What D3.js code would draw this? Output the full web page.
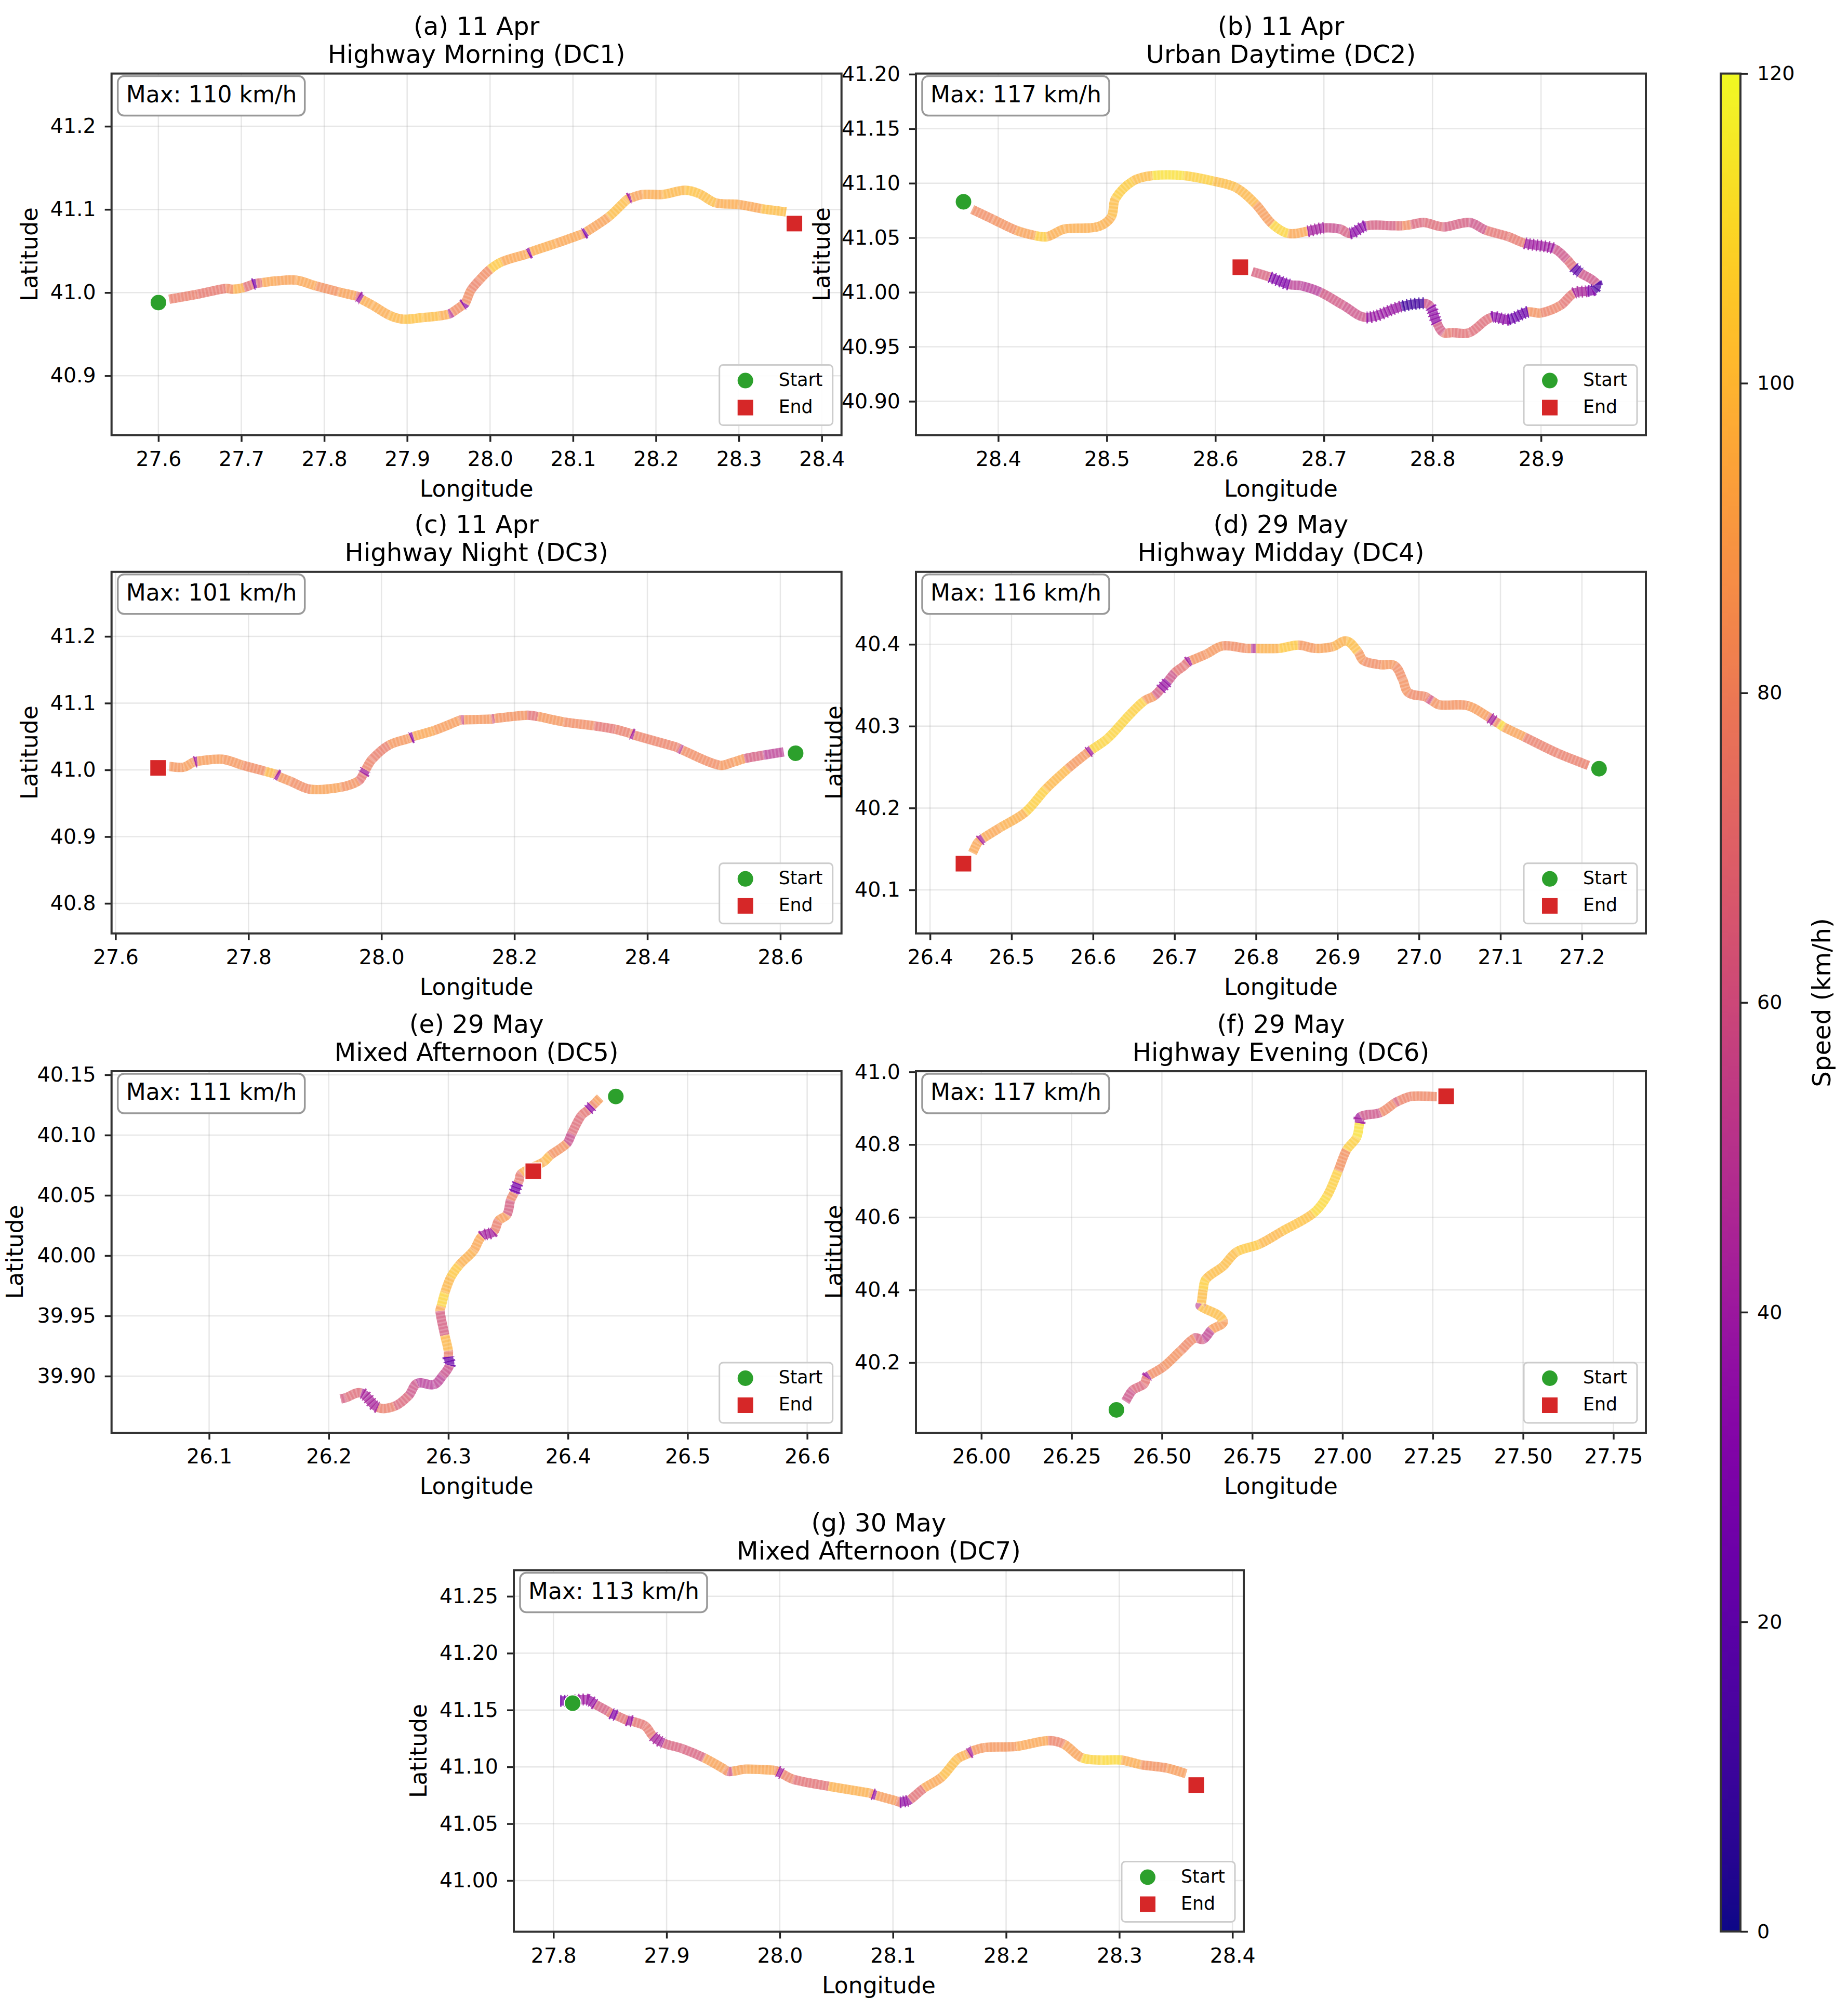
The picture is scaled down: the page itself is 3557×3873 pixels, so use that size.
<!DOCTYPE html>
<html lang="en">
<head>
    <meta charset="UTF-8">
    <title>Route speed maps</title>
    <script src="https://d3js.org/d3.v7.min.js"></script>
    <style>
        body {
            background-color: white;
            margin: 0;
            padding: 0;
        }

        svg {
            display: block;
            font-family: 'DejaVu Sans', sans-serif;
        }

        .title {
            font-size: 48.2px;
            fill: #000;
            text-anchor: middle;
        }

        .axis-label {
            font-size: 44px;
            fill: #000;
            text-anchor: middle;
        }

        .tick-label text {
            font-size: 39.5px;
            font-family: 'DejaVu Sans', sans-serif;
            fill: #000;
        }

        .legend-text {
            font-size: 34.7px;
            fill: #000;
        }
    </style>
</head>
<body>
    <svg width="3557" height="3873"></svg>

    <script>
        // Panel text
        const panelDates = ["(a) 11 Apr", "(b) 11 Apr", "(c) 11 Apr", "(d) 29 May", "(e) 29 May", "(f) 29 May", "(g) 30 May"];
        const panelNames = ["Highway Morning (DC1)", "Urban Daytime (DC2)", "Highway Night (DC3)", "Highway Midday (DC4)", "Mixed Afternoon (DC5)", "Highway Evening (DC6)", "Mixed Afternoon (DC7)"];
        const maxSpeeds = [110, 117, 101, 116, 111, 117, 113];

        const lonLimits = [[27.5435, 28.4238], [28.3242, 28.9966], [27.594, 28.692], [26.3827, 27.2785], [26.0184, 26.6287], [25.819, 27.84], [27.765, 28.41]];
        const latLimits = [[40.8286, 41.2634], [40.869, 41.2006], [40.755, 41.2967], [40.0468, 40.4885], [39.853, 40.153], [40.007, 41.002], [40.955, 41.273]];

        const lonTicks = [
            [27.6, 27.7, 27.8, 27.9, 28.0, 28.1, 28.2, 28.3, 28.4],
            [28.4, 28.5, 28.6, 28.7, 28.8, 28.9],
            [27.6, 27.8, 28.0, 28.2, 28.4, 28.6],
            [26.4, 26.5, 26.6, 26.7, 26.8, 26.9, 27.0, 27.1, 27.2],
            [26.1, 26.2, 26.3, 26.4, 26.5, 26.6],
            [26.00, 26.25, 26.50, 26.75, 27.00, 27.25, 27.50, 27.75],
            [27.8, 27.9, 28.0, 28.1, 28.2, 28.3, 28.4]
        ];
        const latTicks = [
            [40.9, 41.0, 41.1, 41.2],
            [40.90, 40.95, 41.00, 41.05, 41.10, 41.15, 41.20],
            [40.8, 40.9, 41.0, 41.1, 41.2],
            [40.1, 40.2, 40.3, 40.4],
            [39.90, 39.95, 40.00, 40.05, 40.10, 40.15],
            [40.2, 40.4, 40.6, 40.8, 41.0],
            [41.00, 41.05, 41.10, 41.15, 41.20, 41.25]
        ];
        const lonDecimals = [1, 1, 1, 1, 1, 2, 1];
        const latDecimals = [1, 2, 1, 1, 2, 1, 2];

        const startPoints = [[27.6, 40.988], [28.368, 41.083], [28.623, 41.025], [27.221, 40.248], [26.44, 40.132], [26.374, 40.07], [27.817, 41.156]];
        const endPoints = [[28.367, 41.083], [28.623, 41.023], [27.664, 41.003], [26.441, 40.132], [26.371, 40.07], [27.287, 40.933], [28.368, 41.084]];

        // Tracks: [longitude, latitude, speed km/h]
        const trackDC1 = [
            [27.613,40.992,76],[27.647,40.998,74],[27.681,41.005,82],[27.690,41.004,96],[27.703,41.006,70],[27.714,41.010,28],[27.718,41.011,70],
            [27.725,41.012,92],[27.742,41.014,90],[27.766,41.015,92],[27.790,41.008,84],[27.817,41.001,90],[27.838,40.996,70],[27.841,40.995,38],[27.845,40.992,94],
            [27.858,40.985,94],[27.878,40.973,98],[27.895,40.968,102],[27.919,40.970,100],[27.939,40.972,94],[27.950,40.974,48],[27.954,40.976,82],
            [27.967,40.985,35],[27.970,40.987,82],[27.977,41.003,78],[27.987,41.015,82],[28.000,41.028,104],[28.014,41.037,92],[28.043,41.046,92],
            [28.046,41.047,36],[28.049,41.049,94],[28.079,41.059,92],[28.110,41.070,80],[28.113,41.071,30],[28.116,41.073,90],[28.143,41.091,100],
            [28.164,41.111,96],[28.167,41.113,42],[28.170,41.114,90],[28.184,41.118,94],[28.208,41.118,98],[28.235,41.123,102],[28.252,41.119,100],
            [28.272,41.108,94],[28.300,41.106,92],[28.327,41.101,100],[28.357,41.097,106]
        ];
        const trackDC2 = [
            [28.376,41.076,82],[28.395,41.067,84],[28.416,41.057,90],[28.434,41.052,105],[28.445,41.051,95],[28.461,41.058,95],[28.491,41.060,96],
            [28.504,41.069,100],[28.508,41.086,105],[28.524,41.102,100],[28.542,41.107,112],[28.571,41.107,106],[28.598,41.102,100],[28.619,41.096,98],
            [28.637,41.081,88],[28.652,41.063,108],[28.667,41.054,92],[28.685,41.056,42],[28.700,41.059,55],[28.715,41.058,62],[28.724,41.054,34],
            [28.739,41.061,62],[28.766,41.061,70],[28.772,41.061,82],[28.780,41.062,66],[28.792,41.064,68],[28.810,41.060,62],[28.834,41.064,58],
            [28.849,41.057,72],[28.870,41.051,74],[28.885,41.045,40],[28.912,41.040,58],[28.924,41.030,68],[28.930,41.023,20],[28.936,41.018,58],
            [28.951,41.008,16],[28.948,41.002,30],[28.942,41.001,44],[28.930,40.999,72],[28.918,40.988,78],[28.900,40.981,84],[28.888,40.982,24],
            [28.870,40.975,34],[28.854,40.977,68],[28.834,40.963,70],[28.818,40.963,74],[28.810,40.963,60],[28.804,40.972,36],[28.798,40.987,58],
            [28.792,40.990,12],[28.771,40.987,38],[28.739,40.977,58],[28.718,40.988,60],[28.697,41.000,48],[28.679,41.006,50],[28.668,41.007,30],[28.650,41.014,64],[28.634,41.019,64]
        ];
        const trackDC3 = [
            [27.681,41.005,86],[27.702,41.004,88],[27.716,41.011,82],[27.719,41.012,42],[27.723,41.013,88],[27.761,41.016,86],[27.791,41.007,82],
            [27.825,40.998,98],[27.839,40.994,85],[27.842,40.993,42],[27.846,40.990,86],[27.863,40.983,82],[27.893,40.971,90],[27.939,40.974,84],
            [27.965,40.983,72],[27.973,40.994,42],[27.976,41.000,78],[27.986,41.016,76],[28.011,41.037,86],[28.041,41.047,84],[28.044,41.048,36],
            [28.048,41.050,92],[28.079,41.059,88],[28.117,41.074,80],[28.120,41.075,58],[28.124,41.075,86],[28.163,41.076,84],[28.166,41.076,62],
            [28.170,41.077,84],[28.219,41.082,70],[28.235,41.080,86],[28.274,41.072,82],[28.320,41.066,72],[28.351,41.061,76],[28.373,41.055,82],
            [28.376,41.054,44],[28.380,41.052,78],[28.444,41.034,74],[28.448,41.032,50],[28.452,41.030,82],[28.508,41.007,86],[28.530,41.012,88],
            [28.546,41.017,62],[28.575,41.022,50],[28.605,41.027,44]
        ];
        const trackDC4 = [
            [26.452,40.145,92],[26.458,40.157,90],[26.461,40.160,44],[26.465,40.163,92],[26.486,40.176,96],[26.517,40.195,106],[26.542,40.223,98],
            [26.569,40.248,86],[26.590,40.265,84],[26.594,40.268,42],[26.598,40.271,108],[26.618,40.285,108],[26.645,40.314,106],[26.663,40.331,86],
            [26.675,40.337,62],[26.683,40.345,38],[26.692,40.355,58],[26.700,40.365,72],[26.712,40.374,70],[26.716,40.378,42],[26.720,40.380,84],
            [26.739,40.388,86],[26.759,40.398,82],[26.788,40.395,84],[26.794,40.395,48],[26.800,40.395,96],[26.828,40.395,104],[26.852,40.399,86],
            [26.873,40.395,90],[26.894,40.397,96],[26.911,40.404,100],[26.925,40.391,86],[26.932,40.380,82],[26.953,40.375,86],[26.970,40.374,82],
            [26.980,40.357,84],[26.987,40.341,80],[27.008,40.336,78],[27.011,40.334,60],[27.016,40.331,84],[27.025,40.326,84],[27.060,40.325,88],
            [27.084,40.312,76],[27.087,40.310,44],[27.093,40.306,80],[27.098,40.303,110],[27.104,40.299,90],[27.129,40.287,76],[27.170,40.267,76],[27.208,40.252,80]
        ];
        const trackDC5 = [
            [26.427,40.131,88],[26.423,40.127,80],[26.420,40.124,36],[26.417,40.121,72],[26.411,40.116,68],[26.403,40.101,56],[26.399,40.093,84],
            [26.385,40.083,98],[26.380,40.078,95],[26.361,40.068,74],[26.359,40.062,72],[26.358,40.060,28],[26.355,40.052,78],[26.352,40.046,62],
            [26.349,40.034,88],[26.342,40.029,76],[26.338,40.020,42],[26.328,40.016,92],[26.321,40.004,96],[26.309,39.992,104],[26.302,39.982,98],
            [26.297,39.969,108],[26.294,39.958,92],[26.293,39.954,62],[26.297,39.934,98],[26.300,39.921,76],[26.300,39.916,24],[26.301,39.909,56],
            [26.295,39.900,50],[26.288,39.893,48],[26.274,39.894,58],[26.267,39.884,66],[26.255,39.875,76],[26.241,39.874,44],[26.227,39.886,68],[26.214,39.882,62],[26.210,39.881,36]
        ];
        const trackDC6 = [
            [26.399,40.093,58],[26.419,40.124,66],[26.450,40.141,72],[26.458,40.159,42],[26.465,40.165,82],[26.505,40.189,84],[26.552,40.233,80],
            [26.591,40.268,62],[26.614,40.264,52],[26.637,40.290,88],[26.669,40.316,100],[26.606,40.356,50],[26.609,40.362,100],[26.614,40.400,106],
            [26.622,40.430,100],[26.669,40.465,100],[26.707,40.505,104],[26.770,40.526,98],[26.832,40.561,102],[26.918,40.610,110],[26.957,40.658,106],
            [26.988,40.728,84],[27.011,40.785,106],[27.039,40.820,112],[27.047,40.859,42],[27.050,40.877,58],[27.105,40.888,80],[27.144,40.914,66],
            [27.155,40.920,78],[27.191,40.933,80],[27.261,40.932,78]
        ];
        const trackDC7 = [
            [27.806,41.158,28],[27.812,41.158,40],[27.830,41.159,38],[27.837,41.155,62],[27.848,41.149,72],[27.851,41.147,32],[27.856,41.145,70],
            [27.865,41.141,40],[27.870,41.140,72],[27.881,41.136,74],[27.888,41.127,44],[27.897,41.121,64],[27.914,41.116,64],[27.933,41.108,90],
            [27.951,41.098,84],[27.954,41.096,60],[27.958,41.096,90],[27.970,41.098,92],[27.995,41.097,84],[27.998,41.096,42],[28.002,41.094,78],
            [28.012,41.089,70],[28.043,41.083,96],[28.079,41.077,88],[28.082,41.076,38],[28.085,41.075,88],[28.103,41.070,78],[28.106,41.069,36],
            [28.112,41.070,40],[28.115,41.071,70],[28.127,41.081,92],[28.143,41.091,100],[28.157,41.107,96],[28.165,41.111,84],[28.167,41.112,44],
            [28.170,41.114,86],[28.181,41.117,86],[28.209,41.118,92],[28.237,41.123,78],[28.251,41.120,90],[28.267,41.108,108],[28.284,41.106,110],
            [28.302,41.106,94],[28.319,41.102,84],[28.342,41.099,88],[28.359,41.094,84]
        ];
        const tracks = [trackDC1, trackDC2, trackDC3, trackDC4, trackDC5, trackDC6, trackDC7];

        const colorbarTicks = [0, 20, 40, 60, 80, 100, 120];

        // Panel boxes in page pixels
        const panelLeft = [214.7, 1763, 214.7, 1763, 214.7, 1763, 989];
        const panelTop = [141.6, 141.6, 1100.8, 1100.8, 2062, 2062, 3022.5];
        const latLabelGap = [143, 166, 143, 142, 171, 142, 168];
        const panelWidth = 1405;
        const panelHeight = 696;

        const svg = d3.select("svg");
        const speedColor = d3.scaleSequential(d3.interpolatePlasma).domain([0, 120]);

        // One smooth piece of track between points i and i + 1
        function trackPiece(pts, i) {
            const p0 = pts[Math.max(i - 1, 0)], p1 = pts[i], p2 = pts[i + 1], p3 = pts[Math.min(i + 2, pts.length - 1)];
            const len = Math.hypot(p2[0] - p1[0], p2[1] - p1[1]);
            const unit = (a, b) => {
                const n = Math.hypot(b[0] - a[0], b[1] - a[1]) || 1;
                return [(b[0] - a[0]) / n, (b[1] - a[1]) / n];
            };
            const t1 = unit(p0, p2), t2 = unit(p1, p3);
            return `M${p1[0]},${p1[1]}C${p1[0] + t1[0] * len / 3},${p1[1] + t1[1] * len / 3} ` +
                `${p2[0] - t2[0] * len / 3},${p2[1] - t2[1] * len / 3} ${p2[0]},${p2[1]}`;
        }

        panelDates.forEach(function(date, i) {
            const g = svg.append("g").attr("transform", `translate(${panelLeft[i]},${panelTop[i]})`);

            const x = d3.scaleLinear().domain(lonLimits[i]).range([0, panelWidth]);
            const y = d3.scaleLinear().domain(latLimits[i]).range([panelHeight, 0]);

            // Title
            g.append("text").attr("class", "title").attr("x", panelWidth / 2).attr("y", -74.5).text(date);
            g.append("text").attr("class", "title").attr("x", panelWidth / 2).attr("y", -20.5).text(panelNames[i]);

            // Grid
            g.selectAll("line.vgrid").data(lonTicks[i]).enter().append("line")
                .attr("class", "vgrid")
                .attr("x1", d => x(d)).attr("x2", d => x(d))
                .attr("y1", 0).attr("y2", panelHeight)
                .attr("stroke", "#b0b0b0").attr("stroke-opacity", 0.3).attr("stroke-width", 2.5);
            g.selectAll("line.hgrid").data(latTicks[i]).enter().append("line")
                .attr("class", "hgrid")
                .attr("x1", 0).attr("x2", panelWidth)
                .attr("y1", d => y(d)).attr("y2", d => y(d))
                .attr("stroke", "#b0b0b0").attr("stroke-opacity", 0.3).attr("stroke-width", 2.5);

            // Track, one coloured piece per pair of points
            const track = tracks[i];
            const pts = track.map(d => [x(d[0]), y(d[1])]);
            const pieces = d3.range(track.length - 1).map(k => ({ d: trackPiece(pts, k), speed: track[k][2] }));

            const trackGroup = g.append("g").attr("opacity", 0.74);
            trackGroup.selectAll("path.piece").data(pieces).enter().append("path")
                .attr("class", "piece")
                .attr("d", d => d.d)
                .attr("fill", "none")
                .attr("stroke", d => speedColor(d.speed))
                .attr("stroke-width", 18)
                .attr("stroke-linecap", "butt");
            trackGroup.selectAll("path.stripe").data(pieces).enter().append("path")
                .attr("class", "stripe")
                .attr("d", d => d.d)
                .attr("fill", "none")
                .attr("stroke", "white")
                .attr("stroke-opacity", 0.2)
                .attr("stroke-width", 18)
                .attr("stroke-dasharray", "3 4");

            // Slow stretches look spiky
            g.selectAll("path.spike").data(pieces.filter(d => d.speed < 46)).enter().append("path")
                .attr("class", "spike")
                .attr("d", d => d.d)
                .attr("fill", "none")
                .attr("stroke", d => speedColor(d.speed))
                .attr("stroke-opacity", 0.8)
                .attr("stroke-width", 23)
                .attr("stroke-dasharray", "2.5 5");

            // Start / end markers
            g.append("circle")
                .attr("cx", x(startPoints[i][0])).attr("cy", y(startPoints[i][1])).attr("r", 16)
                .attr("fill", "#2ca02c").attr("stroke", "white").attr("stroke-width", 2);
            g.append("rect")
                .attr("x", x(endPoints[i][0]) - 16).attr("y", y(endPoints[i][1]) - 16)
                .attr("width", 32).attr("height", 32)
                .attr("fill", "#d62728").attr("stroke", "white").attr("stroke-width", 2);

            // Axes
            const xAxis = d3.axisBottom(x).tickValues(lonTicks[i]).tickFormat(d3.format(`.${lonDecimals[i]}f`)).tickSize(13).tickPadding(18);
            const yAxis = d3.axisLeft(y).tickValues(latTicks[i]).tickFormat(d3.format(`.${latDecimals[i]}f`)).tickSize(13).tickPadding(17);
            [g.append("g").attr("class", "tick-label").attr("transform", `translate(0,${panelHeight})`).call(xAxis),
             g.append("g").attr("class", "tick-label").call(yAxis)].forEach(function(ax) {
                ax.select(".domain").remove();
                ax.selectAll(".tick line").attr("stroke", "#222").attr("stroke-width", 3.5);
            });

            // Frame
            g.append("rect").attr("width", panelWidth).attr("height", panelHeight)
                .attr("fill", "none").attr("stroke", "#333").attr("stroke-width", 4);

            // Axis labels
            g.append("text").attr("class", "axis-label")
                .attr("x", panelWidth / 2).attr("y", panelHeight + 118).text("Longitude");
            g.append("text").attr("class", "axis-label")
                .attr("transform", `translate(${-latLabelGap[i]},${panelHeight / 2}) rotate(-90)`)
                .text("Latitude");

            // Max speed box
            g.append("rect").attr("x", 12).attr("y", 5).attr("width", 360).attr("height", 76).attr("rx", 12)
                .attr("fill", "white").attr("stroke", "#999").attr("stroke-width", 3.5);
            g.append("text").attr("x", 28).attr("y", 55)
                .attr("font-size", 44).attr("fill", "#000")
                .text(`Max: ${maxSpeeds[i]} km/h`);

            // Legend
            const legend = g.append("g").attr("transform", `translate(${panelWidth - 235},${panelHeight - 135})`);
            legend.append("rect").attr("width", 218).attr("height", 116).attr("rx", 7)
                .attr("fill", "white").attr("fill-opacity", 0.9).attr("stroke", "#ccc").attr("stroke-width", 3);
            legend.append("circle").attr("cx", 50).attr("cy", 30).attr("r", 16)
                .attr("fill", "#2ca02c").attr("stroke", "white").attr("stroke-width", 2);
            legend.append("rect").attr("x", 34).attr("y", 66).attr("width", 32).attr("height", 32)
                .attr("fill", "#d62728").attr("stroke", "white").attr("stroke-width", 2);
            legend.append("text").attr("class", "legend-text").attr("x", 114).attr("y", 40).text("Start");
            legend.append("text").attr("class", "legend-text").attr("x", 114).attr("y", 92).text("End");
        });

        // Colorbar
        const cbarScale = d3.scaleLinear().domain([0, 120]).range([3718, 141.6]);
        const defs = svg.append("defs");
        const gradient = defs.append("linearGradient").attr("id", "plasma-bar")
            .attr("x1", 0).attr("y1", 1).attr("x2", 0).attr("y2", 0);
        gradient.selectAll("stop").data(d3.range(0, 1.001, 0.02)).enter().append("stop")
            .attr("offset", d => d).attr("stop-color", d => d3.interpolatePlasma(d));
        svg.append("rect")
            .attr("x", 3312).attr("y", cbarScale(120))
            .attr("width", 38).attr("height", cbarScale(0) - cbarScale(120))
            .attr("fill", "url(#plasma-bar)")
            .attr("stroke", "#333").attr("stroke-width", 4);
        const cbarAxis = svg.append("g").attr("class", "tick-label")
            .attr("transform", "translate(3350,0)")
            .call(d3.axisRight(cbarScale).tickValues(colorbarTicks).tickSize(14).tickPadding(18));
        cbarAxis.select(".domain").remove();
        cbarAxis.selectAll(".tick line").attr("stroke", "#222").attr("stroke-width", 3.5);
        cbarAxis.selectAll("text").style("font-size", "38px");

        svg.append("text")
            .attr("transform", "translate(3523,1930) rotate(-90)")
            .attr("text-anchor", "middle")
            .attr("font-size", 48.2).attr("fill", "#000")
            .text("Speed (km/h)");
    </script>
</body>
</html>
